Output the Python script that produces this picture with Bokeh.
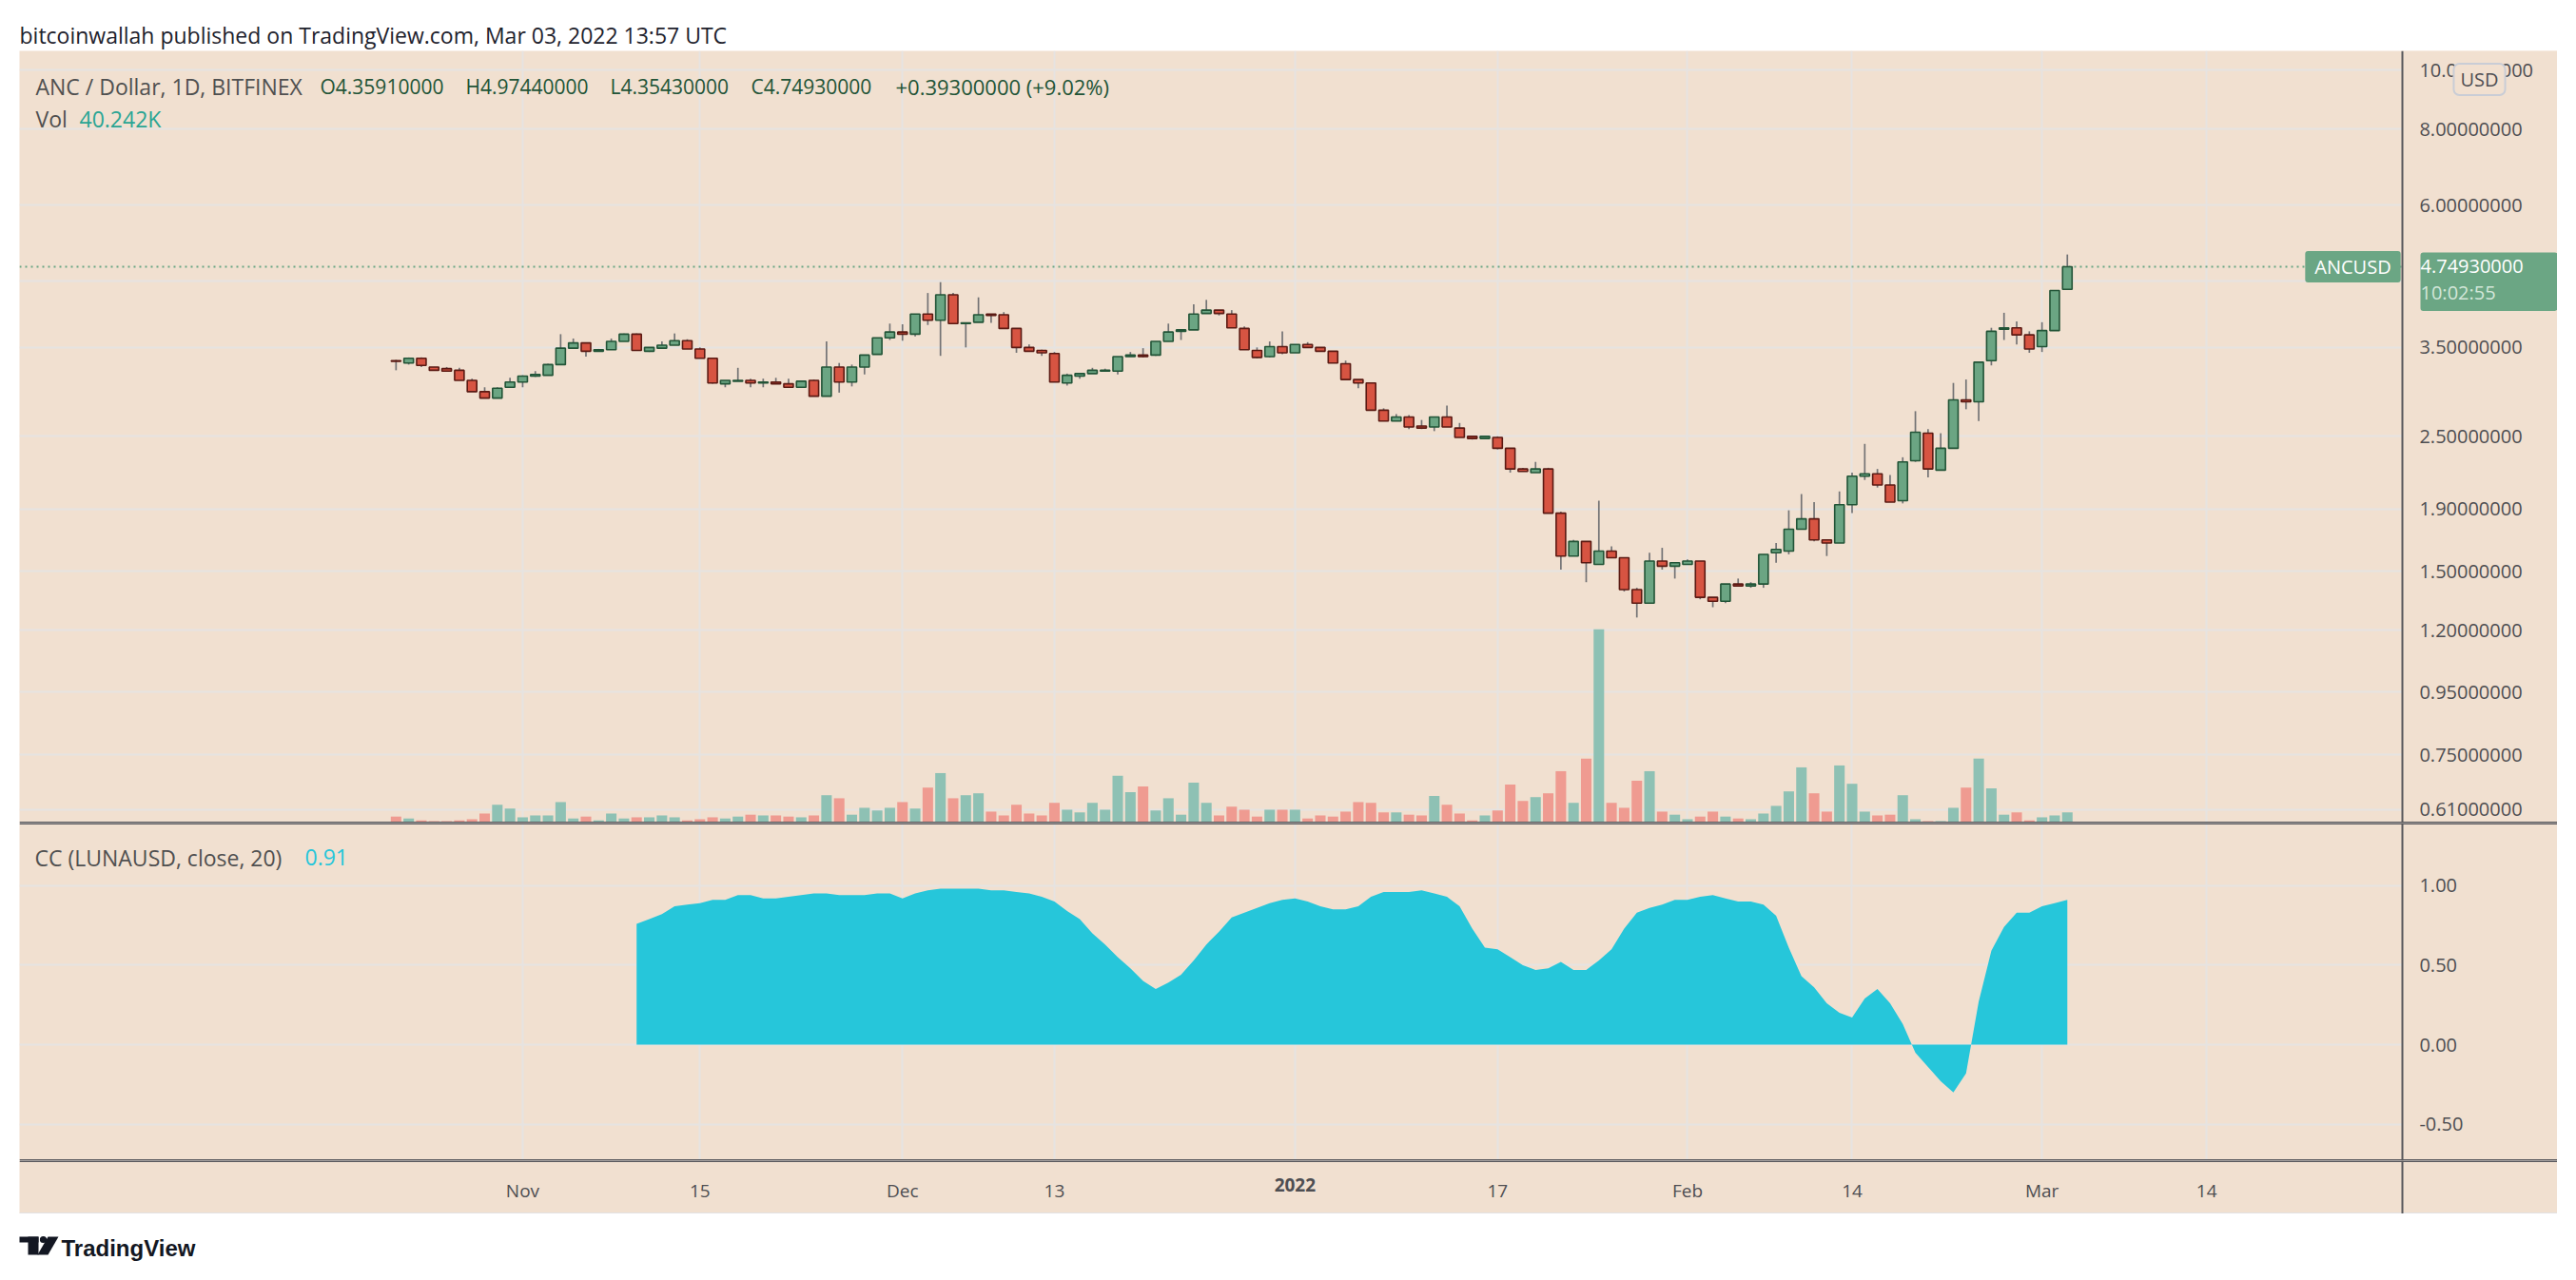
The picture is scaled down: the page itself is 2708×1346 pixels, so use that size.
import pandas as pd
from bokeh.plotting import figure
from bokeh.models import (Range1d, LinearScale, LogAxis, LinearAxis, FixedTicker, Grid,
                          PrintfTickFormatter, Label, Span, ColumnDataSource, Spacer, BoxAnnotation)
from bokeh.layouts import column, row
from bokeh.embed import file_html
from bokeh.resources import INLINE
from bokeh.core.properties import value

# ---------------- data ----------------
first_candle_date = "2021-10-22"
opens = [3.33, 3.30, 3.36, 3.25, 3.23, 3.21, 3.09, 2.96, 2.89, 3.01,
         3.07, 3.14, 3.15, 3.28, 3.49, 3.56, 3.45, 3.47, 3.58, 3.68,
         3.45, 3.49, 3.53, 3.59, 3.48, 3.36, 3.05, 3.08, 3.09, 3.06,
         3.07, 3.05, 3.01, 3.09, 2.91, 3.25, 3.07, 3.25, 3.41, 3.63,
         3.71, 3.68, 3.97, 3.88, 4.27, 3.83, 3.85, 3.97, 3.96, 3.76,
         3.50, 3.46, 3.42, 3.06, 3.14, 3.17, 3.20, 3.20, 3.38, 3.40,
         3.40, 3.58, 3.72, 3.74, 3.98, 4.03, 3.97, 3.76, 3.46, 3.38,
         3.51, 3.43, 3.54, 3.50, 3.45, 3.29, 3.10, 3.06, 2.76, 2.65,
         2.69, 2.60, 2.59, 2.69, 2.58, 2.50, 2.48, 2.49, 2.39, 2.21,
         2.18, 2.21, 1.87, 1.59, 1.68, 1.54, 1.62, 1.58, 1.40, 1.33,
         1.56, 1.53, 1.54, 1.56, 1.36, 1.34, 1.43, 1.42, 1.43, 1.61,
         1.62, 1.76, 1.83, 1.69, 1.67, 1.93, 2.15, 2.17, 2.08, 1.96,
         2.28, 2.53, 2.20, 2.39, 2.87, 2.85, 3.33, 3.75, 3.77, 3.67,
         3.51, 3.73, 4.3591]
highs = [3.34, 3.37, 3.37, 3.25, 3.25, 3.24, 3.11, 3.01, 3.01, 3.12,
         3.15, 3.20, 3.29, 3.68, 3.62, 3.56, 3.48, 3.62, 3.69, 3.69,
         3.50, 3.58, 3.69, 3.61, 3.50, 3.36, 3.09, 3.24, 3.11, 3.11,
         3.12, 3.11, 3.09, 3.10, 3.58, 3.30, 3.28, 3.40, 3.63, 3.83,
         3.82, 3.97, 4.30, 4.48, 4.30, 3.84, 4.23, 3.97, 4.00, 3.76,
         3.54, 3.47, 3.44, 3.17, 3.18, 3.24, 3.23, 3.38, 3.44, 3.49,
         3.58, 3.83, 3.74, 4.12, 4.19, 4.03, 4.03, 3.79, 3.50, 3.58,
         3.72, 3.54, 3.57, 3.50, 3.45, 3.33, 3.10, 3.06, 2.78, 2.72,
         2.71, 2.66, 2.69, 2.81, 2.63, 2.50, 2.50, 2.50, 2.39, 2.22,
         2.27, 2.22, 1.88, 1.69, 1.68, 1.96, 1.65, 1.58, 1.41, 1.61,
         1.64, 1.55, 1.57, 1.56, 1.36, 1.43, 1.46, 1.44, 1.60, 1.67,
         1.89, 2.01, 1.95, 1.69, 2.03, 2.18, 2.43, 2.21, 2.16, 2.31,
         2.75, 2.57, 2.53, 3.06, 3.10, 3.32, 3.77, 3.99, 3.86, 3.72,
         3.85, 4.34, 4.9744]
lows = [3.21, 3.28, 3.25, 3.21, 3.20, 3.09, 2.96, 2.89, 2.89, 3.01,
        3.01, 3.13, 3.15, 3.28, 3.49, 3.38, 3.45, 3.47, 3.58, 3.46,
        3.44, 3.49, 3.53, 3.48, 3.36, 3.05, 3.01, 3.08, 3.01, 3.01,
        3.05, 3.01, 3.01, 2.91, 2.91, 2.95, 3.02, 3.16, 3.41, 3.60,
        3.59, 3.65, 3.81, 3.39, 3.82, 3.50, 3.85, 3.84, 3.76, 3.43,
        3.45, 3.39, 3.07, 3.03, 3.11, 3.17, 3.20, 3.16, 3.38, 3.37,
        3.39, 3.58, 3.60, 3.74, 3.98, 3.95, 3.77, 3.47, 3.36, 3.37,
        3.41, 3.43, 3.50, 3.45, 3.30, 3.10, 3.00, 2.76, 2.65, 2.65,
        2.57, 2.57, 2.55, 2.59, 2.49, 2.47, 2.48, 2.38, 2.18, 2.19,
        2.18, 1.87, 1.51, 1.59, 1.44, 1.54, 1.58, 1.39, 1.26, 1.33,
        1.51, 1.46, 1.54, 1.35, 1.31, 1.33, 1.42, 1.41, 1.41, 1.55,
        1.60, 1.76, 1.68, 1.59, 1.67, 1.87, 2.12, 2.06, 1.95, 1.94,
        2.27, 2.14, 2.20, 2.39, 2.77, 2.65, 3.27, 3.60, 3.54, 3.43,
        3.44, 3.73, 4.3543]
closes = [3.32, 3.36, 3.27, 3.21, 3.20, 3.09, 2.96, 2.89, 3.00, 3.07,
          3.14, 3.16, 3.28, 3.49, 3.56, 3.45, 3.47, 3.58, 3.68, 3.46,
          3.50, 3.53, 3.59, 3.48, 3.36, 3.06, 3.09, 3.09, 3.06, 3.07,
          3.05, 3.01, 3.08, 2.91, 3.25, 3.07, 3.25, 3.40, 3.63, 3.71,
          3.68, 3.97, 3.88, 4.27, 3.83, 3.84, 3.96, 3.95, 3.76, 3.50,
          3.45, 3.43, 3.07, 3.15, 3.17, 3.21, 3.21, 3.38, 3.40, 3.38,
          3.58, 3.71, 3.74, 3.97, 4.03, 3.98, 3.77, 3.47, 3.37, 3.51,
          3.43, 3.54, 3.50, 3.45, 3.30, 3.10, 3.06, 2.76, 2.65, 2.69,
          2.59, 2.58, 2.69, 2.59, 2.49, 2.48, 2.50, 2.39, 2.21, 2.19,
          2.21, 1.87, 1.59, 1.68, 1.55, 1.62, 1.58, 1.40, 1.33, 1.56,
          1.53, 1.55, 1.56, 1.36, 1.34, 1.43, 1.42, 1.43, 1.60, 1.63,
          1.76, 1.83, 1.69, 1.67, 1.93, 2.15, 2.17, 2.08, 1.95, 2.27,
          2.54, 2.21, 2.39, 2.87, 2.85, 3.31, 3.72, 3.77, 3.67, 3.48,
          3.73, 4.34, 4.7493]
volumes_k = [24.4, 17.2, 10.1, 7.2, 7.2, 10.1, 14.4, 35.9, 69.0, 54.6,
             21.6, 28.7, 28.7, 79.0, 17.2, 24.4, 10.1, 35.9, 17.2, 21.6,
             21.6, 28.7, 21.6, 10.1, 14.4, 21.6, 17.2, 24.4, 31.6, 28.7,
             28.7, 24.4, 21.6, 28.7, 104.9, 93.4, 31.6, 57.5, 47.4, 57.5,
             79.0, 54.6, 133.6, 188.2, 93.4, 104.9, 112.1, 43.1, 28.7, 69.0,
             35.9, 28.7, 76.2, 50.3, 40.2, 76.2, 50.3, 178.2, 116.4, 138.0,
             47.4, 93.4, 31.6, 152.3, 76.2, 28.7, 61.8, 50.3, 24.4, 50.3,
             50.3, 50.3, 17.2, 28.7, 24.4, 43.1, 79.0, 76.2, 40.2, 40.2,
             31.6, 28.7, 102.0, 69.0, 35.9, 10.1, 28.7, 47.4, 145.1, 83.3,
             97.7, 112.1, 195.4, 76.2, 242.9, 730.0, 76.2, 57.5, 159.5, 195.4,
             43.1, 31.6, 14.4, 24.4, 43.1, 24.4, 17.2, 14.4, 35.9, 64.7,
             119.3, 209.8, 112.1, 43.1, 217.0, 148.0, 43.1, 28.7, 31.6, 104.9,
             14.4, 7.2, 7.2, 57.5, 133.6, 242.9, 130.8, 31.6, 40.2, 10.1,
             21.6, 28.7, 40.242]

cc_first_date = "2021-11-10"
cc_values = [0.76, 0.79, 0.82, 0.87, 0.88, 0.89, 0.91, 0.91, 0.94, 0.94,
             0.92, 0.92, 0.93, 0.94, 0.95, 0.95, 0.94, 0.94, 0.94, 0.95,
             0.95, 0.92, 0.95, 0.97, 0.98, 0.98, 0.98, 0.98, 0.97, 0.97,
             0.96, 0.95, 0.93, 0.90, 0.84, 0.79, 0.70, 0.63, 0.55, 0.48,
             0.40, 0.35, 0.39, 0.44, 0.53, 0.63, 0.71, 0.80, 0.83, 0.86,
             0.89, 0.91, 0.92, 0.90, 0.87, 0.85, 0.85, 0.87, 0.93, 0.96,
             0.96, 0.96, 0.97, 0.95, 0.93, 0.87, 0.73, 0.61, 0.60, 0.55,
             0.50, 0.47, 0.48, 0.52, 0.47, 0.47, 0.53, 0.60, 0.73, 0.83,
             0.86, 0.88, 0.91, 0.91, 0.93, 0.94, 0.92, 0.90, 0.90, 0.88,
             0.81, 0.61, 0.43, 0.36, 0.26, 0.20, 0.17, 0.29, 0.35, 0.26,
             0.13, -0.05, -0.14, -0.23, -0.30, -0.18, 0.27, 0.59, 0.74, 0.83,
             0.83, 0.87, 0.89, 0.91]

price_axis_ticks = [0.61, 0.75, 0.95, 1.2, 1.5, 1.9, 2.5, 3.5, 6.0, 8.0, 10.0]
price_grid_ticks = [0.61, 0.75, 0.95, 1.2, 1.5, 1.9, 2.5, 3.5, 4.5, 6.0, 8.0, 10.0]
cc_ticks = [-0.5, 0.0, 0.5, 1.0]
date_ticks = ["2021-11-01", "2021-11-15", "2021-12-01", "2021-12-13", "2022-01-01",
              "2022-01-17", "2022-02-01", "2022-02-14", "2022-03-01", "2022-03-14"]
date_tick_labels = ["Nov", "15", "Dec", "13", "2022", "17", "Feb", "14", "Mar", "14"]
year_tick_label = "2022"

last_price = 4.7493
last_volume_text = "40.242K"
cc_last_text = "0.91"
header_text = "bitcoinwallah published on TradingView.com, Mar 03, 2022 13:57 UTC"
legend_title = "ANC / Dollar, 1D, BITFINEX"
legend_ohlc = ["O4.35910000", "H4.97440000", "L4.35430000", "C4.74930000", "+0.39300000 (+9.02%)"]
cc_title = "CC (LUNAUSD, close, 20)"
countdown_text = "10:02:55"
symbol_text = "ANCUSD"
currency_text = "USD"

# ---------------- style ----------------
BG = "#F1E0D0"
GRID = "#E6E3E1"
DARK = "#58585C"
AXTXT = "#4E4E52"
LEGTXT = "#505050"
UP_FILL, UP_EDGE = "#6BA583", "#225437"
DN_FILL, DN_EDGE = "#D75442", "#5B1A13"
WICK = "#737375"
VOL_UP, VOL_DN = "#8EC1B4", "#EF9B91"
CYAN = "#26C6DA"
PRICE_BOX = "#6BA684"
FONT = "Open Sans"

W = 2668                      # panel width (page x 20 .. 2688)
AXIS_COL = 163                # width of the right price-scale column
FRAME_W = W - AXIS_COL        # plotting area up to the scale divider
H_HEAD, H_PRICE, H_CC, H_XAX, H_FOOT = 45, 812, 355, 56, 62
DAY = 86400000.0


def to_ms(d):
    return (pd.Timestamp(d) - pd.Timestamp("1970-01-01")) / pd.Timedelta(milliseconds=1)


dates = pd.date_range(first_candle_date, periods=len(opens), freq="D")
x_ms = [to_ms(d) for d in dates]
is_up = [c >= o for o, c in zip(opens, closes)]
src = ColumnDataSource(dict(
    x=x_ms, high=highs, low=lows,
    top=[max(o, c) for o, c in zip(opens, closes)],
    bottom=[min(o, c) for o, c in zip(opens, closes)],
    fill=[UP_FILL if u else DN_FILL for u in is_up],
    edge=[UP_EDGE if u else DN_EDGE for u in is_up],
    vol=volumes_k,
    vcol=[VOL_UP if u else VOL_DN for u in is_up],
))
cc_dates = pd.date_range(cc_first_date, periods=len(cc_values), freq="D")
cc_src = ColumnDataSource(dict(x=[to_ms(d) for d in cc_dates], cc=cc_values))

tick_ms = [to_ms(d) for d in date_ticks]
anchor = to_ms("2021-11-01")
xr = Range1d(anchor - 39.74 * DAY, anchor + 160.71 * DAY)
divider = anchor + 148.46 * DAY


def base_fig(height, x_range, y_range, fill=BG, **kw):
    f = figure(width=W, height=height, x_range=x_range, y_range=y_range,
               x_axis_location=None, y_axis_location=None, toolbar_location=None,
               output_backend="svg", min_border_left=0, min_border_top=0,
               min_border_bottom=0, min_border_right=0,
               background_fill_color=fill, border_fill_color=fill,
               outline_line_color=None, **kw)
    f.center = []          # drop the default grids that figure() adds
    return f


def bare_axis(loc, color=DARK, width=3, cls=LinearAxis):
    return cls(ticker=FixedTicker(ticks=[]), fixed_location=loc, axis_line_color=color,
               axis_line_width=width, major_tick_out=0, major_tick_in=0,
               minor_tick_out=0, minor_tick_in=0, major_label_text_alpha=0.0)


def scale_axis(ticks, fmt, cls=LinearAxis):
    return cls(ticker=FixedTicker(ticks=ticks), formatter=PrintfTickFormatter(format=fmt),
               fixed_location=divider, axis_line_color=DARK, axis_line_width=2,
               major_tick_out=0, major_tick_in=0, minor_tick_out=0, minor_tick_in=0,
               major_label_standoff=18, major_label_text_font=FONT,
               major_label_text_font_size="20px", major_label_text_color=AXTXT)


def grids(fig, yticks):
    fig.add_layout(Grid(dimension=0, ticker=FixedTicker(ticks=tick_ms),
                        grid_line_color=GRID, grid_line_width=2))
    fig.add_layout(Grid(dimension=1, ticker=FixedTicker(ticks=yticks),
                        grid_line_color=GRID, grid_line_width=2))


def cover_scale_column(fig):
    fig.add_layout(BoxAnnotation(left=divider, fill_color=BG, fill_alpha=1.0,
                                 line_color=None, level="underlay"))


def lab(fig, x, y, text, color, size="21px", **kw):
    fig.add_layout(Label(x=x, y=y, x_units="screen", y_units="screen", text=text,
                         text_color=color, text_font=FONT, text_font_size=size,
                         text_baseline="alphabetic", **kw))


# ---------------- header ----------------
head = base_fig(H_HEAD, Range1d(0, W), Range1d(0, H_HEAD), fill="white")
head.text(x=[0], y=[16.5], text=[header_text], text_font=value(FONT), text_font_size="23px",
          text_color="#1E222D", text_baseline="alphabetic")

# ---------------- price pane ----------------
p = base_fig(H_PRICE, xr, Range1d(0.579, 10.746), y_axis_type="log")
p.extra_y_ranges = {"vol": Range1d(0, max(volumes_k) / 0.251)}
p.extra_y_scales = {"vol": LinearScale()}
grids(p, price_grid_ticks)
p.add_layout(Span(location=last_price, dimension="width", line_color=PRICE_BOX,
                  line_dash="2 4", line_width=2, level="underlay"))
cover_scale_column(p)
p.add_layout(scale_axis(price_axis_ticks, "%.8f", LogAxis), "right")
p.add_layout(bare_axis(0.579), "below")

p.vbar(x="x", top="vol", bottom=0, width=0.83 * DAY, fill_color="vcol", line_color=None,
       y_range_name="vol", source=src)
p.segment(x0="x", y0="low", x1="x", y1="high", line_color=WICK, line_width=1.7, source=src)
p.vbar(x="x", top="top", bottom="bottom", width=0.75 * DAY, fill_color="fill",
       line_color="edge", line_width=1.6, source=src)

legend_x = [17, 316, 469, 621, 769, 921]
lab(p, legend_x[0], 775, legend_title, LEGTXT, size="23px")
for xx, t in zip(legend_x[1:], legend_ohlc):
    lab(p, xx, 775, t, UP_EDGE, size="21px" if xx != legend_x[-1] else "22px")
lab(p, 17, 741, "Vol", LEGTXT, size="23px")
lab(p, 63, 741, last_volume_text, "#2AA594", size="23px")

# symbol tag, last-price box on the scale, currency badge  (padding = (horizontal, vertical))
p.add_layout(Label(x=FRAME_W - 52, y=last_price, x_units="screen", y_units="data", text=symbol_text,
                   text_color="white", text_font=FONT, text_font_size="20px", text_align="center",
                   text_baseline="middle", background_fill_color=PRICE_BOX, padding=(10, 3),
                   border_radius=3))
p.add_layout(Label(x=FRAME_W + 19, y=last_price, x_units="screen", y_units="data",
                   text=legend_ohlc[3][1:] + "\n" + countdown_text, text_color=PRICE_BOX,
                   text_font=FONT, text_font_size="20px", text_align="left", text_baseline="top",
                   y_offset=15, background_fill_color=PRICE_BOX, padding=(18, 1), border_radius=3))
p.add_layout(Label(x=FRAME_W + 19, y=last_price, x_units="screen", y_units="data",
                   text=legend_ohlc[3][1:], text_color="white", text_font=FONT,
                   text_font_size="20px", text_align="left", text_baseline="middle"))
p.add_layout(Label(x=FRAME_W + 19, y=last_price, x_units="screen", y_units="data", y_offset=-27,
                   text=countdown_text, text_color="#D3E6D9", text_font=FONT,
                   text_font_size="20px", text_align="left", text_baseline="middle"))
p.add_layout(Label(x=FRAME_W + 81, y=H_PRICE - 30, x_units="screen", y_units="screen",
                   text=currency_text, text_color=AXTXT, text_font=FONT, text_font_size="20px",
                   text_align="center", text_baseline="middle", background_fill_color=BG,
                   border_line_color="#C9CDD6", border_line_width=2, padding=(7, 3),
                   border_radius=6))

# ---------------- CC pane ----------------
c = base_fig(H_CC, xr, Range1d(-0.729, 1.393))
grids(c, cc_ticks)
cover_scale_column(c)
c.add_layout(scale_axis(cc_ticks, "%.2f"), "right")
c.add_layout(bare_axis(1.393), "above")
c.add_layout(bare_axis(-0.729), "below")
c.varea(x="x", y1=0, y2="cc", source=cc_src, fill_color=CYAN, fill_alpha=1.0)
lab(c, 16, 319, cc_title, LEGTXT, size="23px")
lab(c, 300, 319, cc_last_text, CYAN, size="23px")

# ---------------- time axis strip ----------------
xa_fig = base_fig(H_XAX, xr, Range1d(0, 1))
xa_fig.add_layout(bare_axis(1.0), "above")
normal = [(t, l) for t, l in zip(tick_ms, date_tick_labels) if l != year_tick_label]
bold = [(t, l) for t, l in zip(tick_ms, date_tick_labels) if l == year_tick_label]
for items, style in ((normal, "normal"), (bold, "bold")):
    ax = LinearAxis(ticker=FixedTicker(ticks=[t for t, _ in items]),
                    major_label_overrides={int(t): l for t, l in items},
                    fixed_location=1, axis_line_color=None, major_tick_out=0, major_tick_in=0,
                    minor_tick_out=0, minor_tick_in=0, major_label_standoff=18,
                    major_label_text_font=FONT, major_label_text_font_size="19px",
                    major_label_text_font_style=style, major_label_text_color=AXTXT)
    xa_fig.add_layout(ax, "below")
xa_fig.add_layout(bare_axis(divider, width=2), "right")
xa_fig.add_layout(bare_axis(0.0, color="#E2E1E4", width=3), "below")

# ---------------- footer with TradingView mark ----------------
foot = base_fig(H_FOOT, Range1d(0, W), Range1d(0, H_FOOT), fill="white")
foot.quad(left=[-1, 9], right=[20, 20], bottom=[32, 19], top=[38, 38], fill_color="#131722", line_color=None)
foot.circle(x=[25], y=[35], radius=3.6, fill_color="#131722", line_color=None)
foot.patch(x=[30, 41, 30, 19], y=[38, 38, 19, 19], fill_color="#131722", line_color=None)
foot.text(x=[44], y=[26], text=["TradingView"], text_font=value("Liberation Sans"),
          text_font_size="24px", text_font_style="bold", text_color="#131722",
          text_baseline="middle")

layout = row(Spacer(width=20, height=1338),
             column(Spacer(width=W, height=8), head, p, c, xa_fig, foot))

with open("out.html", "w") as fh:
    fh.write(file_html(layout, INLINE, "ANC / Dollar"))
